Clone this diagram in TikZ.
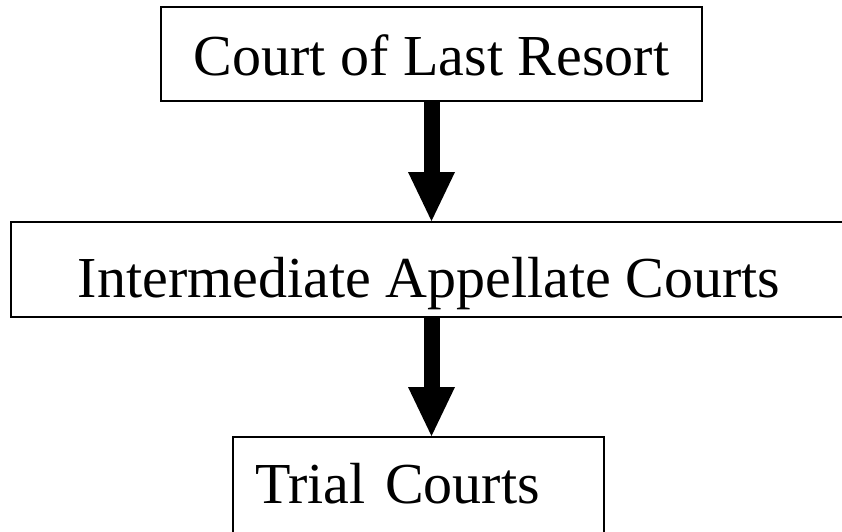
\documentclass[tikz,border=0pt]{standalone}
\usepackage{fontspec}
\setmainfont{Liberation Serif}
\usetikzlibrary{arrows.meta}

\tikzset{
    court/.style={draw, line width=2pt, inner sep=0pt,
        font=\fontsize{58}{60}\selectfont},
    downarrow/.style={line width=16pt,
        -{Triangle[width=47pt, length=49pt, line width=0pt]}}
}

\begin{document}
\begin{tikzpicture}[x=1pt, y=1pt]
            \useasboundingbox (0,0) rectangle (842,-531);
            \clip (0,0) rectangle (842,-531);
            \node [court, minimum width=541pt, text height=68pt, text depth=26pt]
                (last) at (431.5,-54) {Court of Last Resort};
            \node [court, minimum width=836pt, text height=75pt, text depth=20pt]
                (appellate) at (429,-269.5) {Intermediate Appellate Courts};
            \node [court, text width=327pt, inner xsep=22pt, align=left,
                text height=66pt, text depth=57pt]
                (trial) at (418.5,-498.5) {Trial Courts};
            \draw [downarrow] (last.south) -- (last.south |- appellate.north);
            \draw [downarrow] (last.south |- appellate.south)
                -- (last.south |- trial.north);
        \end{tikzpicture}
\end{document}
